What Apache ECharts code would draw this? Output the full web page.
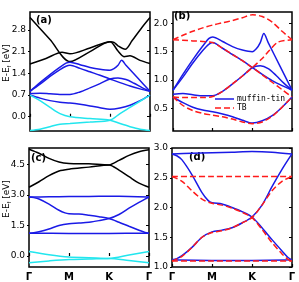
<!DOCTYPE html>
<html><head><meta charset="utf-8">
<script src="https://cdn.jsdelivr.net/npm/echarts@6/dist/echarts.min.js"></script>
<style>html,body{margin:0;padding:0;background:#fff}#c{width:299px;height:282px}</style>
</head><body><div id="c"></div>
<script>
// k-path: Γ=0, M=1, K=2, Γ=3
const kLabels = ['Γ','M','K','Γ'];
const ticksA = [0.0,0.7,1.4,2.1,2.8];
const ticksB = [0.5,1.0,1.5,2.0];
const ticksC = [0.0,1.5,3.0,4.5];
const ticksD = [1.0,1.5,2.0,2.5,3.0];
const legendNames = ['muffin-tin','TB'];

// panel (a) black bands
const aBlack1 = [[0,3.2],[0.5,2.49],[1,1.78],[1.5,2.1],[2,2.42],[2.1,2.4],[2.2,2.29],[2.38,2.18],[2.55,2.45],[2.78,2.85],[3,3.2]];
const aBlack2 = [[0,1.70],[0.4,1.88],[0.8,2.08],[1,2.03],[1.5,2.22],[2,2.42],[2.2,2.12],[2.35,1.94],[2.5,1.97],[2.75,1.82],[3,1.72]];
// panel (a) cyan bands
const aCyan1 = [[0,0.7],[0.25,0.52],[0.5,0.3],[0.75,0.1],[1,0.0],[1.5,-0.06],[2,-0.11],[2.25,-0.22],[2.5,-0.32],[2.75,-0.4],[3,-0.44]];
const aCyan2 = [[0,-0.44],[0.25,-0.4],[0.5,-0.32],[0.75,-0.24],[1,-0.22],[1.5,-0.17],[2,-0.11],[2.25,0.1],[2.5,0.3],[2.75,0.5],[3,0.7]];
// muffin-tin blue bands (a),(b)
const mt1 = [[0,0.82],[0.25,1.1],[0.5,1.36],[0.75,1.6],[0.9,1.73],[1,1.76],[1.25,1.68],[1.5,1.59],[1.75,1.53],[2,1.5],[2.1,1.55],[2.2,1.66],[2.29,1.82],[2.4,1.66],[2.7,1.24],[3,0.82]];
const mt2 = [[0,0.82],[0.25,1.05],[0.5,1.3],[0.75,1.52],[0.9,1.63],[1,1.66],[1.25,1.56],[1.5,1.45],[1.75,1.34],[2,1.22],[2.25,1.1],[2.5,0.99],[2.75,0.9],[3,0.82]];
const mt3 = [[0,0.75],[0.25,0.76],[0.5,0.74],[0.75,0.72],[1,0.72],[1.25,0.8],[1.5,0.93],[1.75,1.07],[2,1.22],[2.2,1.25],[2.4,1.2],[2.6,1.08],[2.8,0.94],[3,0.82]];
const mt4 = [[0,0.70],[0.25,0.6],[0.5,0.52],[0.75,0.47],[1,0.44],[1.25,0.4],[1.5,0.35],[1.75,0.29],[2,0.24],[2.25,0.28],[2.5,0.37],[2.75,0.52],[3,0.70]];
// TB fit (b)
const tb1 = [[0,1.71],[0.25,1.79],[0.5,1.86],[0.75,1.92],[1,1.97],[1.25,2.01],[1.5,2.05],[1.75,2.1],[2,2.15],[2.25,2.12],[2.5,2.02],[2.75,1.86],[3,1.71]];
const tb2 = [[0,1.71],[0.25,1.7],[0.5,1.69],[0.75,1.68],[1,1.66],[1.25,1.56],[1.5,1.45],[1.75,1.34],[2,1.22],[2.25,1.09],[2.5,0.96],[2.75,0.83],[3,0.70]];
const tb3 = [[0,0.70],[0.25,0.69],[0.5,0.69],[0.75,0.69],[1,0.71],[1.25,0.8],[1.5,0.93],[1.75,1.07],[2,1.22],[2.25,1.38],[2.44,1.53],[2.65,1.67],[3,1.71]];
const tb4 = [[0,0.70],[0.25,0.55],[0.5,0.46],[0.75,0.41],[1,0.38],[1.25,0.35],[1.5,0.31],[1.75,0.26],[2,0.23],[2.25,0.26],[2.5,0.36],[2.75,0.52],[3,0.70]];
// panel (c) black + cyan
const cBlack1 = [[0,5.25],[0.25,5.05],[0.5,4.8],[0.75,4.62],[1,4.55],[1.5,4.53],[2,4.48],[2.25,4.7],[2.5,4.95],[2.75,5.13],[3,5.22]];
const cBlack2 = [[0,3.38],[0.25,3.65],[0.5,3.95],[0.75,4.18],[1,4.27],[1.5,4.37],[2,4.48],[2.25,4.22],[2.5,3.9],[2.75,3.58],[3,3.38]];
const cCyan1 = [[0,0.22],[0.5,0.06],[1,-0.05],[1.5,-0.08],[2,-0.12],[2.5,0.05],[3,0.22]];
const cCyan2 = [[0,-0.33],[0.5,-0.24],[1,-0.17],[1.5,-0.15],[2,-0.12],[2.5,-0.22],[3,-0.33]];
// muffin-tin blue bands (c),(d)
const md1 = [[0,2.9],[0.5,2.91],[1,2.92],[1.5,2.93],[2,2.94],[2.5,2.93],[3,2.9]];
const md2 = [[0,2.9],[0.12,2.87],[0.25,2.8],[0.5,2.55],[0.75,2.25],[0.9,2.12],[1,2.08],[1.25,2.06],[1.5,2.0],[1.75,1.93],[2,1.84],[2.25,1.66],[2.5,1.46],[2.75,1.27],[2.9,1.16],[3,1.12]];
const md3 = [[0,1.12],[0.12,1.14],[0.25,1.19],[0.5,1.33],[0.75,1.5],[1,1.59],[1.25,1.62],[1.5,1.66],[1.75,1.74],[2,1.84],[2.25,2.04],[2.5,2.35],[2.75,2.64],[2.9,2.8],[3,2.9]];
const md4 = [[0,1.12],[1,1.11],[2,1.11],[3,1.12]];
// TB fit (d)
const td1 = [[0,2.52],[1,2.52],[2,2.52],[3,2.52]];
const td2 = [[0,2.52],[0.25,2.44],[0.5,2.28],[0.75,2.14],[1,2.07],[1.25,2.04],[1.5,1.99],[1.75,1.92],[2,1.83],[2.25,1.63],[2.5,1.41],[2.75,1.22],[2.9,1.13],[3,1.1]];
const td3 = [[0,1.1],[0.25,1.18],[0.5,1.33],[0.75,1.5],[1,1.58],[1.25,1.61],[1.5,1.66],[1.75,1.74],[2,1.83],[2.25,2.04],[2.5,2.28],[2.75,2.44],[3,2.52]];
const td4 = [[0,1.1],[1,1.1],[2,1.1],[3,1.1]];

const BLACK='#000000', BLUE='#1a1ae6', CYAN='#22e6ee', RED='#ff1a1a';
const DASH=[6,3];
const grids = [
  {left:30, top:12, width:120, height:119},
  {left:173, top:12, width:119, height:119},
  {left:29, top:148, width:120, height:120},
  {left:172, top:148, width:120, height:120}
];
const yr = [[-0.46,3.38,ticksA,4],[0.1,2.2,ticksB,5],[-0.54,5.31,ticksC,4],[1.0,3.0,ticksD,4]];
const lblFont = 'DejaVu Sans';

const xAxis=[], yAxis=[];
grids.forEach((g,i)=>{
  xAxis.push({type:'value',gridIndex:i,min:0,max:3,interval:1,
    axisLine:{show:false},splitLine:{show:false},
    axisTick:{show:true,inside:true,length:3,lineStyle:{color:'#000',width:1.2}},
    axisLabel:{show:i>=2,margin:5,fontFamily:lblFont,fontWeight:'bold',fontSize:10,color:'#000',
      formatter:v=>kLabels[Math.round(v)]}});
  const [mn,mx,tv,dec]=yr[i];
  yAxis.push({type:'value',gridIndex:i,min:mn,max:mx,position:'left',
    axisLine:{show:false},splitLine:{show:false},
    axisTick:{show:true,inside:false,length:2,customValues:tv,lineStyle:{color:'#000',width:1}},
    axisLabel:{show:true,customValues:tv,margin:dec,fontFamily:lblFont,fontSize:9,color:'#000',
      formatter:v=>v.toFixed(1)}});
  yAxis.push({type:'value',gridIndex:i,min:mn,max:mx,position:'right',
    axisLine:{show:false},splitLine:{show:false},
    axisTick:{show:true,inside:true,length:3,customValues:tv,lineStyle:{color:'#000',width:1}},
    axisLabel:{show:false}});
});

const series=[];
function add(data,color,gi,dashed){
  series.push({type:'line',xAxisIndex:gi,yAxisIndex:gi*2,data:data,
    showSymbol:false,symbol:'none',smooth:0.3,silent:true,
    lineStyle:{color:color,width:1.5,type:dashed?DASH:'solid'},z:dashed?3:2});
}
[aBlack1,aBlack2].forEach(d=>add(d,BLACK,0));
[mt1,mt2,mt3,mt4].forEach(d=>add(d,BLUE,0));
[aCyan1,aCyan2].forEach(d=>add(d,CYAN,0));
[mt1,mt2,mt3,mt4].forEach(d=>add(d,BLUE,1,false));
[tb1,tb2,tb3,tb4].forEach(d=>add(d,RED,1,true));
[cBlack1,cBlack2].forEach(d=>add(d,BLACK,2));
[md1,md2,md3,md4].forEach(d=>add(d,BLUE,2));
[cCyan1,cCyan2].forEach(d=>add(d,CYAN,2));
[md1,md2,md3,md4].forEach(d=>add(d,BLUE,3));
[td1,td2,td3,td4].forEach(d=>add(d,RED,3,true));

const chart=echarts.init(document.getElementById('c'),null,{renderer:'canvas'});
const rich={s:{fontSize:6,verticalAlign:'bottom',padding:[4,0,0,0]}};
chart.setOption({
  animation:false,
  grid:grids.map(g=>Object.assign({show:true,borderColor:'#000',borderWidth:1.5,backgroundColor:'transparent'},g)),
  xAxis:xAxis,yAxis:yAxis,series:series,
  graphic:[
    {type:'text',left:36,top:15,style:{text:'(a)',font:'bold 10px DejaVu Sans',fill:'#000'}},
    {type:'text',left:174,top:11,style:{text:'(b)',font:'bold 10px DejaVu Sans',fill:'#000'}},
    {type:'text',left:31,top:153,style:{text:'(c)',font:'bold 10px DejaVu Sans',fill:'#000'}},
    {type:'text',left:189,top:152,style:{text:'(d)',font:'bold 10px DejaVu Sans',fill:'#000'}},
    {type:'text',x:2,y:82,rotation:Math.PI/2,style:{text:'E-E{s|f} [eV]',font:'9px DejaVu Sans',fill:'#000',rich:rich}},
    {type:'text',x:2,y:218,rotation:Math.PI/2,style:{text:'E-E{s|f} [eV]',font:'9px DejaVu Sans',fill:'#000',rich:rich}},
    {type:'line',shape:{x1:215,y1:99,x2:234,y2:99},style:{stroke:BLUE,lineWidth:1.5}},
    {type:'line',shape:{x1:215,y1:108,x2:234,y2:108},style:{stroke:RED,lineWidth:1.5,lineDash:DASH}},
    {type:'text',x:237,y:99,style:{text:legendNames[0],font:'8px DejaVu Sans Mono',fill:'#000',verticalAlign:'middle'}},
    {type:'text',x:237,y:108,style:{text:legendNames[1],font:'8px DejaVu Sans Mono',fill:'#000',verticalAlign:'middle'}}
  ]
});
</script></body></html>
